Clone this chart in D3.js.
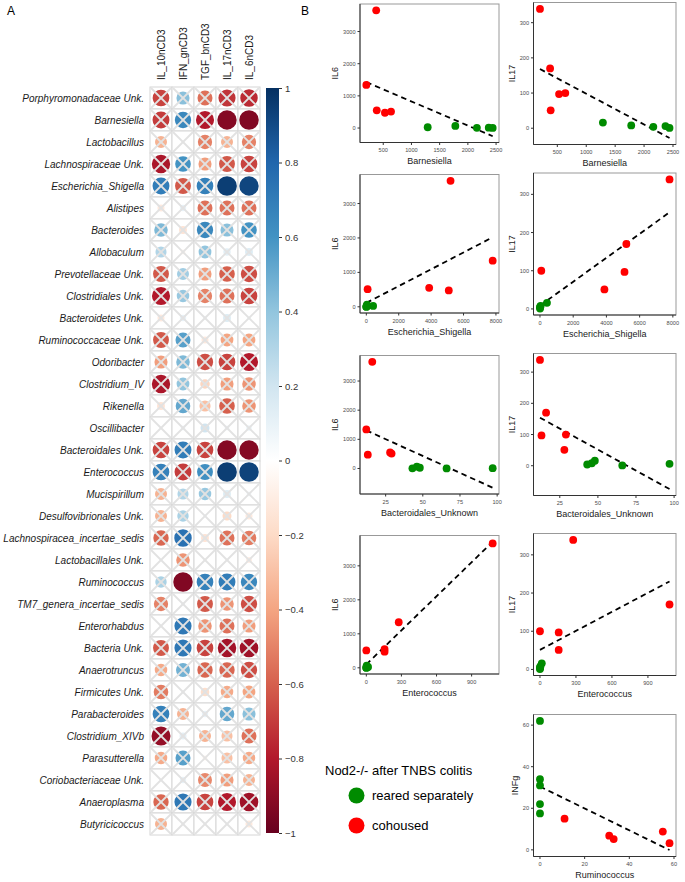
<!DOCTYPE html>
<html>
<head>
<meta charset="utf-8">
<script src="https://cdn.jsdelivr.net/npm/d3@7"></script>
<style>
  body { margin: 0; background: #fff; }
  svg { display: block; font-family: "Liberation Sans", Arial, sans-serif; }
</style>
</head>
<body>
<script>
// ---- panel A: correlation matrix ----
const taxa = [
    "Porphyromonadaceae Unk.", "Barnesiella", "Lactobacillus", "Lachnospiraceae Unk.",
    "Escherichia_Shigella", "Alistipes", "Bacteroides", "Allobaculum", "Prevotellaceae Unk.",
    "Clostridiales Unk.", "Bacteroidetes Unk.", "Ruminococcaceae Unk.", "Odoribacter",
    "Clostridium_IV", "Rikenella", "Oscillibacter", "Bacteroidales Unk.", "Enterococcus",
    "Mucispirillum", "Desulfovibrionales Unk.", "Lachnospiracea_incertae_sedis",
    "Lactobacillales Unk.", "Ruminococcus", "TM7_genera_incertae_sedis", "Enterorhabdus",
    "Bacteria Unk.", "Anaerotruncus", "Firmicutes Unk.", "Parabacteroides", "Clostridium_XIVb",
    "Parasutterella", "Coriobacteriaceae Unk.", "Anaeroplasma", "Butyricicoccus"
];
const cytokines = ["IL_10nCD3", "IFN_gnCD3", "TGF_bnCD3", "IL_17nCD3", "IL_6nCD3"];

const corrIL10 = [-0.68, -0.70, -0.35, -0.82, 0.70, -0.12, 0.45, 0.30, -0.62, -0.80, -0.12, -0.62, -0.42, -0.82, -0.15, 0.00, -0.68,
    0.68, -0.35, -0.35, -0.58, 0.00, 0.32, -0.50, 0.00, -0.62, -0.38, -0.52, 0.68, -0.88, -0.38, 0.00, -0.58, -0.35];
const corrIFN = [0.42, 0.65, 0.00, 0.60, -0.62, 0.10, -0.15, -0.06, 0.35, 0.38, 0.10, 0.55, 0.45, 0.40, 0.52, 0.06, 0.70,
    -0.70, 0.30, 0.32, 0.75, -0.45, -0.93, 0.04, 0.72, 0.72, 0.48, 0.04, -0.35, 0.12, 0.55, 0.10, 0.72, 0.00];
const corrTGF = [-0.55, -0.80, -0.50, -0.42, 0.68, -0.55, 0.65, 0.40, -0.42, -0.50, 0.05, -0.12, -0.65, -0.22, -0.30, 0.20, -0.68,
    0.62, 0.38, 0.04, -0.15, -0.03, 0.68, -0.62, -0.45, -0.68, -0.58, -0.18, 0.10, -0.35, -0.06, -0.48, -0.68, 0.00];
const corrIL17 = [-0.72, -0.92, -0.35, -0.62, 0.95, -0.55, 0.42, 0.13, -0.60, -0.55, 0.15, -0.40, -0.68, -0.42, -0.60, 0.06, -0.92,
    0.95, 0.15, -0.20, -0.55, -0.02, 0.70, -0.45, -0.55, -0.84, -0.58, -0.38, 0.52, -0.30, -0.30, -0.42, -0.80, 0.00];
const corrIL6 = [-0.75, -0.93, -0.50, -0.68, 0.92, -0.55, 0.60, 0.15, -0.65, -0.68, 0.05, -0.40, -0.80, -0.45, -0.45, 0.08, -0.92,
    0.93, 0.06, -0.12, -0.52, -0.09, 0.65, -0.65, -0.42, -0.85, -0.65, -0.40, 0.42, -0.55, -0.38, -0.35, -0.85, -0.12];

// cells drawn without the cross
const sigIL10 = [];
const sigIFN = ["Ruminococcus"];
const sigTGF = [];
const sigIL17 = ["Barnesiella", "Escherichia_Shigella", "Bacteroidales Unk.", "Enterococcus"];
const sigIL6 = ["Barnesiella", "Escherichia_Shigella", "Bacteroidales Unk.", "Enterococcus"];

const barTicks = [1, 0.8, 0.6, 0.4, 0.2, 0, -0.2, -0.4, -0.6, -0.8, -1];
const rdbu = ["#67001F", "#B2182B", "#D6604D", "#F4A582", "#FDDBC7", "#FFFFFF",
    "#D1E5F0", "#92C5DE", "#4393C3", "#2166AC", "#053061"];

// ---- panel B: mice (5 cohoused, 5 reared separately) ----
const mouseGroup = ["cohoused", "cohoused", "cohoused", "cohoused", "cohoused",
    "reared separately", "reared separately", "reared separately", "reared separately", "reared separately"];
const barnesiella = [200, 375, 385, 530, 638, 1288, 1778, 2160, 2370, 2440];
const escherichia = [7800, 5200, 3880, 5090, 80, 420, 40, 0, 15, 5];
const bacteroidales = [12, 16, 28, 13, 29, 48, 46, 43, 97, 66];
const enterococcus = [277, 1080, 156, 156, 0, 15, 3, 0, 2, 0];
const il6 = [1340, 3660, 550, 475, 512, 25, 65, 5, 10, 3];
const il17 = [339, 170, 51, 97, 100, 16, 8, 4, 6, 1];

const rumGroup = ["reared separately", "reared separately", "reared separately", "reared separately", "reared separately",
    "cohoused", "cohoused", "cohoused", "cohoused", "cohoused"];
const ruminococcus = [0, 0, 0, 0, 0, 11, 31, 33, 55, 58];
const infg = [62, 34, 31, 22, 17.5, 15, 6.8, 5.2, 8.8, 3.2];

const barnTicks = [500, 1000, 1500, 2000, 2500];
const eschTicks = [0, 2000, 4000, 6000, 8000];
const bactTicks = [25, 50, 75, 100];
const entTicks = [0, 300, 600, 900];
const rumTicks = [0, 20, 40, 60];
const il6Ticks = [0, 1000, 2000, 3000];
const il17Ticks = [0, 100, 200, 300];
const infgTicks = [0, 20, 40, 60];

const groupColor = { "reared separately": "#008B00", "cohoused": "#FF0000" };

const svg = d3.select("body").append("svg")
    .attr("width", 685)
    .attr("height", 882);

// panel letters
svg.append("text").attr("x", 7).attr("y", 15).attr("font-size", 12).text("A");
svg.append("text").attr("x", 301).attr("y", 15).attr("font-size", 12).text("B");

// ================= correlation matrix =================
const cell = 22, gridLeft = 150, gridTop = 87;
const x = d3.scaleBand().domain(cytokines).range([gridLeft, gridLeft + cytokines.length * cell]);
const y = d3.scaleBand().domain(taxa).range([gridTop, gridTop + taxa.length * cell]);
const color = d3.scaleLinear().domain(rdbu.map((c, i) => -1 + i * 0.2)).range(rdbu);
const rad = d3.scaleSqrt().domain([0, 1]).range([0, cell / 2 * 0.92]);

const corrCols = [corrIL10, corrIFN, corrTGF, corrIL17, corrIL6];
const sigCols = [sigIL10, sigIFN, sigTGF, sigIL17, sigIL6];
const cells = [];
cytokines.forEach(function (c, j) {
    taxa.forEach(function (t, i) {
        cells.push({ taxon: t, cyto: c, r: corrCols[j][i], sig: sigCols[j].includes(t) });
    });
});

const mat = svg.append("g");
mat.selectAll("rect.cell").data(cells).enter().append("rect")
    .attr("class", "cell")
    .attr("x", d => x(d.cyto))
    .attr("y", d => y(d.taxon))
    .attr("width", cell)
    .attr("height", cell)
    .attr("fill", "#fff")
    .attr("stroke", "#d6d6d6")
    .attr("stroke-width", 1);

mat.selectAll("circle").data(cells).enter().append("circle")
    .attr("cx", d => x(d.cyto) + cell / 2)
    .attr("cy", d => y(d.taxon) + cell / 2)
    .attr("r", d => rad(Math.abs(d.r)))
    .attr("fill", d => color(d.r));

const crosses = mat.selectAll("g.cross").data(cells.filter(d => !d.sig)).enter().append("g")
    .attr("class", "cross")
    .attr("stroke", "#e2e2e2")
    .attr("stroke-width", 1.8);
crosses.append("line")
    .attr("x1", d => x(d.cyto) + 1).attr("y1", d => y(d.taxon) + 1)
    .attr("x2", d => x(d.cyto) + cell - 1).attr("y2", d => y(d.taxon) + cell - 1);
crosses.append("line")
    .attr("x1", d => x(d.cyto) + cell - 1).attr("y1", d => y(d.taxon) + 1)
    .attr("x2", d => x(d.cyto) + 1).attr("y2", d => y(d.taxon) + cell - 1);

// row labels
mat.selectAll("text.row").data(taxa).enter().append("text")
    .attr("class", "row")
    .attr("x", gridLeft - 6)
    .attr("y", d => y(d) + cell / 2 + 3.6)
    .attr("text-anchor", "end")
    .attr("font-size", 10)
    .attr("font-style", "italic")
    .attr("fill", "#1a1a1a")
    .text(d => d);

// column labels
mat.selectAll("text.col").data(cytokines).enter().append("text")
    .attr("class", "col")
    .attr("transform", d => "translate(" + (x(d) + cell / 2 + 3.6) + "," + (gridTop - 7) + ") rotate(-90)")
    .attr("font-size", 10)
    .attr("fill", "#1a1a1a")
    .text(d => d);

// colour bar
const barX = 266, barW = 13;
const yBar = d3.scaleLinear().domain([1, -1]).range([88, 833]);
const grad = svg.append("defs").append("linearGradient")
    .attr("id", "cbar").attr("x1", 0).attr("y1", 0).attr("x2", 0).attr("y2", 1);
rdbu.slice().reverse().forEach(function (c, i) {
    grad.append("stop").attr("offset", (i / (rdbu.length - 1) * 100) + "%").attr("stop-color", c);
});
svg.append("rect")
    .attr("x", barX).attr("y", yBar(1))
    .attr("width", barW).attr("height", yBar(-1) - yBar(1))
    .attr("fill", "url(#cbar)");

const barAxis = svg.append("g")
    .attr("transform", "translate(" + (barX + barW) + ",0)")
    .call(d3.axisRight(yBar).tickValues(barTicks).tickSize(3).tickPadding(3).tickFormat(d3.format(".1~f")));
barAxis.select(".domain").remove();
barAxis.selectAll("line").attr("stroke", "#333");
barAxis.selectAll("text").attr("font-size", 9.5).attr("fill", "#333")
    .attr("font-family", "Liberation Sans, Arial, sans-serif");

// ================= scatter plots =================
const L = 360, LW = 139, LH = 138.5, R = 533.5, RW = 142.5, RH = 142;
const plots = [
    { x: L, y: 4, w: LW, h: LH, xs: barnesiella, ys: il6, g: mouseGroup, xt: barnTicks, yt: il6Ticks, xl: "Barnesiella", yl: "IL6" },
    { x: R, y: 2.5, w: RW, h: RH, xs: barnesiella, ys: il17, g: mouseGroup, xt: barnTicks, yt: il17Ticks, xl: "Barnesiella", yl: "IL17" },
    { x: L, y: 174.5, w: LW, h: LH, xs: escherichia, ys: il6, g: mouseGroup, xt: eschTicks, yt: il6Ticks, xl: "Escherichia_Shigella", yl: "IL6" },
    { x: R, y: 173, w: RW, h: RH, xs: escherichia, ys: il17, g: mouseGroup, xt: eschTicks, yt: il17Ticks, xl: "Escherichia_Shigella", yl: "IL17" },
    { x: L, y: 355.5, w: LW, h: LH, xs: bacteroidales, ys: il6, g: mouseGroup, xt: bactTicks, yt: il6Ticks, xl: "Bacteroidales_Unknown", yl: "IL6" },
    { x: R, y: 353.5, w: RW, h: RH, xs: bacteroidales, ys: il17, g: mouseGroup, xt: bactTicks, yt: il17Ticks, xl: "Bacteroidales_Unknown", yl: "IL17" },
    { x: L, y: 535.5, w: LW, h: LH, xs: enterococcus, ys: il6, g: mouseGroup, xt: entTicks, yt: il6Ticks, xl: "Enterococcus", yl: "IL6" },
    { x: R, y: 533.5, w: RW, h: RH, xs: enterococcus, ys: il17, g: mouseGroup, xt: entTicks, yt: il17Ticks, xl: "Enterococcus", yl: "IL17" },
    { x: R, y: 714.5, w: RW, h: RH, xs: ruminococcus, ys: infg, g: rumGroup, xt: rumTicks, yt: infgTicks, xl: "Ruminococcus", yl: "INFg" }
];

function linearFit(xs, ys) {
    const mx = d3.mean(xs), my = d3.mean(ys);
    const sxy = d3.sum(xs, (v, i) => (v - mx) * (ys[i] - my));
    const sxx = d3.sum(xs, v => (v - mx) * (v - mx));
    const b = sxy / sxx;
    return v => my + b * (v - mx);
}

function expand(ext) {
    const pad = (ext[1] - ext[0]) * 0.05;
    return [ext[0] - pad, ext[1] + pad];
}

plots.forEach(function (p) {
    const fit = linearFit(p.xs, p.ys);
    const xExt = d3.extent(p.xs);
    const lineY = xExt.map(fit);
    const sx = d3.scaleLinear().domain(expand(xExt)).range([p.x, p.x + p.w]);
    const sy = d3.scaleLinear().domain(expand(d3.extent(p.ys.concat(lineY)))).range([p.y + p.h, p.y]);
    const g = svg.append("g");

    g.append("rect")
        .attr("x", p.x).attr("y", p.y).attr("width", p.w).attr("height", p.h)
        .attr("fill", "#fff").attr("stroke", "#999").attr("stroke-width", 1);
    g.append("path")
        .attr("d", "M" + p.x + "," + p.y + "V" + (p.y + p.h) + "H" + (p.x + p.w))
        .attr("fill", "none").attr("stroke", "#333").attr("stroke-width", 1);

    // ticks
    const yT = g.selectAll("g.yt").data(p.yt).enter().append("g");
    yT.append("line")
        .attr("x1", p.x - 2.5).attr("x2", p.x)
        .attr("y1", d => sy(d)).attr("y2", d => sy(d))
        .attr("stroke", "#333");
    const yLab = yT.append("text")
        .attr("x", p.x - 4.5).attr("y", d => sy(d) + 2)
        .attr("text-anchor", "end").attr("font-size", 5.6).attr("fill", "#4d4d4d")
        .text(d => d);
    const xT = g.selectAll("g.xt").data(p.xt).enter().append("g");
    xT.append("line")
        .attr("x1", d => sx(d)).attr("x2", d => sx(d))
        .attr("y1", p.y + p.h).attr("y2", p.y + p.h + 2.5)
        .attr("stroke", "#333");
    xT.append("text")
        .attr("x", d => sx(d)).attr("y", p.y + p.h + 9.5)
        .attr("text-anchor", "middle").attr("font-size", 5.6).attr("fill", "#4d4d4d")
        .text(d => d);

    // titles
    g.append("text")
        .attr("x", p.x + p.w / 2).attr("y", p.y + p.h + 21.5)
        .attr("text-anchor", "middle").attr("font-size", 9).attr("fill", "#1a1a1a")
        .text(p.xl);
    const maxW = d3.max(yLab.nodes(), n => n.getComputedTextLength());
    const tx = p.x - 4.5 - maxW - 5;
    g.append("text")
        .attr("transform", "translate(" + tx + "," + (p.y + p.h / 2) + ") rotate(-90)")
        .attr("text-anchor", "middle").attr("font-size", 9).attr("fill", "#1a1a1a")
        .text(p.yl);

    // fitted line
    g.append("line")
        .attr("x1", sx(xExt[0])).attr("y1", sy(lineY[0]))
        .attr("x2", sx(xExt[1])).attr("y2", sy(lineY[1]))
        .attr("stroke", "#000").attr("stroke-width", 1.8).attr("stroke-dasharray", "5.5,4");

    g.selectAll("circle").data(p.xs).enter().append("circle")
        .attr("cx", d => sx(d))
        .attr("cy", (d, i) => sy(p.ys[i]))
        .attr("r", 3.9)
        .attr("fill", (d, i) => groupColor[p.g[i]]);
});

// legend
const legendKeys = ["reared separately", "cohoused"];
const leg = svg.append("g");
leg.append("text").attr("x", 325).attr("y", 774.5).attr("font-size", 13).text("Nod2-/-  after TNBS colitis");
leg.selectAll("circle").data(legendKeys).enter().append("circle")
    .attr("cx", 356.5).attr("cy", (d, i) => 795.5 + i * 30)
    .attr("r", 8).attr("fill", d => groupColor[d]);
leg.selectAll("text.k").data(legendKeys).enter().append("text")
    .attr("class", "k")
    .attr("x", 372).attr("y", (d, i) => 800 + i * 30)
    .attr("font-size", 13)
    .text(d => d);
</script>
</body>
</html>
